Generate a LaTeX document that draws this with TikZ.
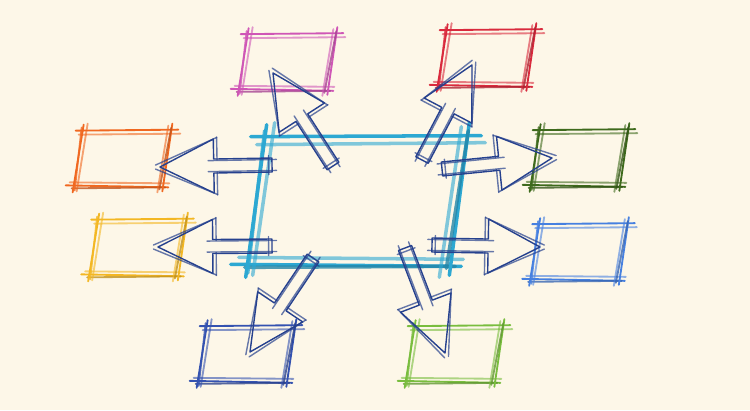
\documentclass[tikz,border=0pt]{standalone}
\usetikzlibrary{calc}
\definecolor{paper}{HTML}{FDF7E8}
\definecolor{hubcyan}{HTML}{2DA8D2}
\definecolor{ink}{HTML}{26418E}
\definecolor{pinkc}{HTML}{CF56B6}
\definecolor{redc}{HTML}{D92A3D}
\definecolor{orangec}{HTML}{F06820}
\definecolor{greenc}{HTML}{3E6A1C}
\definecolor{yellowc}{HTML}{F3B723}
\definecolor{bluec}{HTML}{4680E0}
\definecolor{navyc}{HTML}{3452B0}
\definecolor{limec}{HTML}{79BD3E}
\tikzstyle{box} = [rectangle, draw=none, inner sep=0pt, minimum width=1.76cm, minimum height=1.1cm]
\tikzstyle{pencil} = [line width=1.05pt, line cap=round]
\tikzstyle{quill} = [draw=ink, line width=0.8pt, line cap=round, line join=round]
% #1 node, #2 colour, #3 half slant, #4 spread of the strokes
\newcommand{\sketchbox}[4]{%
  \coordinate (tl) at ($(#1.north west)+(#3,0)$);
  \coordinate (tr) at ($(#1.north east)+(#3,0)$);
  \coordinate (bl) at ($(#1.south west)+(-#3,0)$);
  \coordinate (br) at ($(#1.south east)+(-#3,0)$);
  \draw[pencil, draw=#2] ($(tl)+(-8*#4,0)$) -- ($(tr)+(6*#4,1)$);
  \draw[pencil, draw=#2, opacity=.6] ($(tl)+(-5*#4,-4*#4)$) -- ($(tr)+(8*#4,-3*#4)$);
  \draw[pencil, draw=#2] ($(bl)+(-8*#4,1)$) -- ($(br)+(6*#4,-1)$);
  \draw[pencil, draw=#2, opacity=.6] ($(bl)+(-4*#4,4*#4)$) -- ($(br)+(7*#4,3*#4)$);
  \draw[pencil, draw=#2!80!black, opacity=.8] ($(bl)+(-2,-2)$) -- ($(br)+(3*#4,-1)$);
  \draw[pencil, draw=#2] ($(tl)+(0,6*#4)$) -- ($(bl)+(-1,-6*#4)$);
  \draw[pencil, draw=#2, opacity=.6] ($(tl)+(4*#4,7*#4)$) -- ($(bl)+(3*#4,-5*#4)$);
  \draw[pencil, draw=#2, opacity=.8] ($(tl)+(-2,3*#4)$) -- ($(bl)+(1,-4*#4)$);
  \draw[pencil, draw=#2] ($(tr)+(0,7*#4)$) -- ($(br)+(0,-5*#4)$);
  \draw[pencil, draw=#2, opacity=.6] ($(tr)+(-4*#4,5*#4)$) -- ($(br)+(-5*#4,-6*#4)$);
  \draw[pencil, draw=#2!80!black, opacity=.8] ($(tr)+(-1,3*#4)$) -- ($(br)+(-3,-3)$);
}
% #1 tail, #2 tip
\newcommand{\sketcharrow}[2]{%
  \coordinate (hb) at ($(#1)!0.52!(#2)$);
  \coordinate (hc) at ($(#1)!0.57!(#2)$);
  \coordinate (hd) at ($(#1)!0.49!(#2)$);
  \coordinate (t0) at ($(#1)!-0.04!(#2)$);
  \coordinate (t1) at ($(#1)!0.03!(#2)$);
  \coordinate (p1) at ($(#1)!1.04!(#2)$);
  \draw[quill] ($(#1)!0.14cm!90:(#2)$) -- ($(hb)!0.14cm!-90:(#1)$) -- ($(hb)!0.54cm!-90:(#1)$)
    -- (#2) -- ($(hb)!0.54cm!90:(#1)$) -- ($(hb)!0.14cm!90:(#1)$) -- ($(#1)!0.14cm!-90:(#2)$) -- cycle;
  \draw[quill, opacity=.7] ($(t0)!0.11cm!90:(#2)$) -- ($(hc)!0.11cm!-90:(#1)$);
  \draw[quill, opacity=.7] ($(t0)!0.11cm!-90:(#2)$) -- ($(hc)!0.11cm!90:(#1)$);
  \draw[quill, opacity=.7] ($(t1)!0.19cm!90:(#2)$) -- ($(t1)!0.19cm!-90:(#2)$);
  \draw[quill, opacity=.7] ($(hd)!0.58cm!-90:(#1)$) -- ($(hd)!0.12cm!-90:(#1)$);
  \draw[quill, opacity=.7] ($(hd)!0.58cm!90:(#1)$) -- ($(hd)!0.12cm!90:(#1)$);
  \draw[quill, opacity=.7] ($(hd)!0.57cm!-90:(#1)$) -- ($(p1)!0.04cm!-90:(#1)$);
  \draw[quill, opacity=.7] ($(hd)!0.57cm!90:(#1)$) -- ($(p1)!0.04cm!90:(#1)$);
}

\begin{document}
\begin{tikzpicture}[x=0.02cm, y=0.02cm]
\fill[paper] (0,0) rectangle (750,410);
\useasboundingbox (0,0) rectangle (750,410);

% Define nodes
\node[box, minimum width=4.04cm, minimum height=2.56cm] (hub) at (358,209) {};
\node[box] (pink)   at (288,348)   {};
\node[box] (red)    at (487,352)   {};
\node[box] (orange) at (123,251.5) {};
\node[box] (green)  at (580,252)   {};
\node[box] (yellow) at (138.5,162.5) {};
\node[box] (blue)   at (579.5,158) {};
\node[box] (navy)   at (247,56)    {};
\node[box] (lime)   at (455,56)    {};

% Tails on the hub, tips in the boxes
\coordinate (pink-t)   at (333,244); \coordinate (pink-p)   at (273,337);
\coordinate (red-t)    at (422,250); \coordinate (red-p)    at (472,345);
\coordinate (orange-t) at (272,245); \coordinate (orange-p) at (160,243);
\coordinate (yellow-t) at (272,164); \coordinate (yellow-p) at (158,163);
\coordinate (green-t)  at (442,241); \coordinate (green-p)  at (552,252);
\coordinate (blue-t)   at (432,165); \coordinate (blue-p)   at (540,163);
\coordinate (navy-t)   at (313,152); \coordinate (navy-p)   at (250,58);
\coordinate (lime-t)   at (405,162); \coordinate (lime-p)   at (445,57);

% Boxes
{\tikzset{pencil/.style={line width=2pt, line cap=round}}
\sketchbox{hub}{hubcyan}{10}{2}
}
\sketchbox{pink}{pinkc}{5}{1}
\sketchbox{red}{redc}{5}{1}
\sketchbox{orange}{orangec}{5}{1}
\sketchbox{green}{greenc}{5}{1}
\sketchbox{yellow}{yellowc}{5}{1}
\sketchbox{blue}{bluec}{5}{1}
\sketchbox{navy}{navyc}{5}{1}
\sketchbox{lime}{limec}{5}{1}

% Arrows
\sketcharrow{pink-t}{pink-p}
\sketcharrow{red-t}{red-p}
\sketcharrow{orange-t}{orange-p}
\sketcharrow{yellow-t}{yellow-p}
\sketcharrow{green-t}{green-p}
\sketcharrow{blue-t}{blue-p}
\sketcharrow{navy-t}{navy-p}
\sketcharrow{lime-t}{lime-p}

\end{tikzpicture}
\end{document}
